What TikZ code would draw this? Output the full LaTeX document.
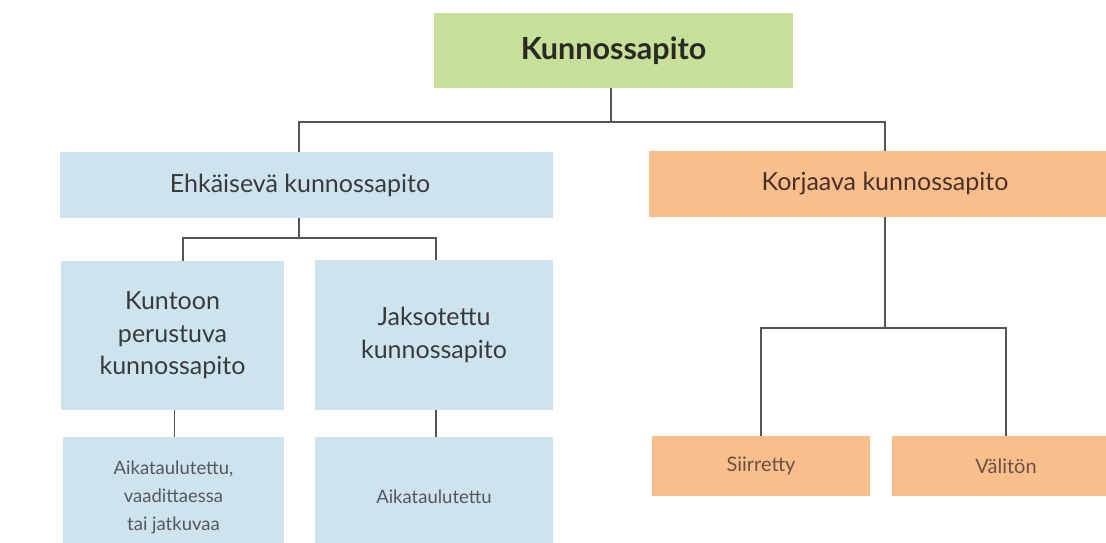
\documentclass[tikz,border=0pt]{standalone}
\usepackage{fontspec}
\setmainfont{Lato}
\definecolor{boxgreen}{HTML}{C6DF99}
\definecolor{boxblue}{HTML}{CDE3EE}
\definecolor{boxorange}{HTML}{F8BF8C}
\definecolor{txtdark}{HTML}{2A2A22}
\definecolor{txtmid}{HTML}{3A3A3C}
\definecolor{txtlight}{HTML}{55585C}
\definecolor{txtbrown}{HTML}{4A3028}
\definecolor{txtbrownlight}{HTML}{6E5044}
\definecolor{linegray}{HTML}{555555}
\begin{document}
\begin{tikzpicture}[x=1pt,y=-1pt,
  box/.style={inner sep=0pt, align=center, draw=none},
  gbox/.style={box, fill=boxgreen, text=txtdark, font=\fontsize{30.5}{36}\selectfont\bfseries},
  bbox/.style={box, fill=boxblue, text=txtmid, font=\fontsize{25}{32.5}\selectfont},
  bsmall/.style={box, fill=boxblue, text=txtlight, font=\fontsize{18.5}{28}\selectfont},
  obox/.style={box, fill=boxorange, text=txtbrown, font=\fontsize{25}{32}\selectfont},
  osmall/.style={box, fill=boxorange, text=txtbrownlight, font=\fontsize{20}{24}\selectfont},
  conn/.style={draw=linegray, line width=1.2pt}]
\useasboundingbox (0,0) rectangle (1106,542);
\fill[white] (0,0) rectangle (1106,542);

\node[gbox, minimum width=359pt, minimum height=75pt] (top) at (613.5,50.5) {Kunnossapito};
\node[bbox, minimum width=493pt, minimum height=66pt] (ehk) at (306.5,185) {\kern-13pt Ehkäisevä kunnossapito};
\node[obox, minimum width=472pt, minimum height=66pt] (kor) at (885,184) {Korjaava kunnossapito};
\node[bbox, minimum width=223pt, minimum height=149pt] (kunt) at (172.5,335.5) {Kuntoon\\perustuva\\kunnossapito};
\node[bbox, minimum width=238pt, minimum height=150pt] (jak) at (434,335) {Jaksotettu\\kunnossapito};
\node[bsmall, minimum width=221pt, minimum height=120pt] (ai1) at (173.5,497) {Aikataulutettu,\\vaadittaessa\\tai jatkuvaa};
\node[bsmall, minimum width=238pt, minimum height=120pt] (ai2) at (434,497) {Aikataulutettu};
\node[osmall, minimum width=218pt, minimum height=60pt] (sii) at (761,466) {Siirretty};
\node[osmall, minimum width=228pt, minimum height=60pt] (val) at (1006,466) {Välitön};

\coordinate (j1) at (611,122);
\coordinate (j2) at (299,238);
\coordinate (j3) at (885,328);

\draw[conn] (top.south -| j1) -- (j1);
\draw[conn] (ehk.north -| j2) |- (j1) -| (kor.north);
\draw[conn] (ehk.south -| j2) -- (j2);
\draw[conn] ([xshift=10.5pt]kunt.north) |- (j2) -| ([xshift=2pt]jak.north);
\draw[conn] ([xshift=2pt]kunt.south) -- ([xshift=2pt]kunt.south |- ai1.north);
\draw[conn] ([xshift=2pt]jak.south) -- ([xshift=2pt]jak.south |- ai2.north);
\draw[conn] (kor.south) -- (j3);
\draw[conn] (sii.north) |- (j3) -| (val.north);
\end{tikzpicture}
\end{document}
